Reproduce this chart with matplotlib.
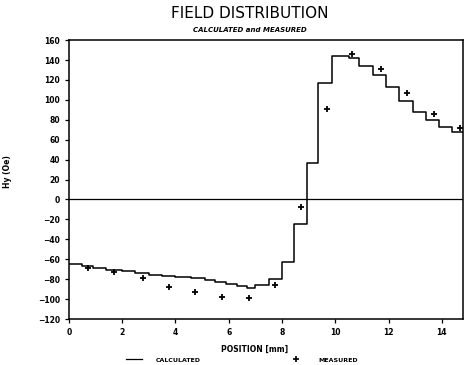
import numpy as np
import matplotlib
matplotlib.use("Agg")
import matplotlib.pyplot as plt
from matplotlib.lines import Line2D

# calculated field (step curve, value holds until next x)
calc_x = [0.0, 0.5, 0.9, 1.4, 2.0, 2.5, 3.0, 3.5, 4.0, 4.6, 5.1, 5.5, 5.9, 6.3, 6.7, 7.0,
          7.5, 8.0, 8.45, 8.93, 9.37, 9.87, 10.5, 10.9, 11.4, 11.9, 12.4, 12.9, 13.4,
          13.9, 14.4, 14.8]
calc_y = [-65, -67, -69, -71, -72, -74, -76, -77, -78, -79, -81, -83, -85, -87, -89, -86,
          -80, -63, -25, 37, 117, 144, 142, 134, 125, 113, 99, 88, 80,
          73, 68, 68]

# measured points
meas_x = [0.73, 1.70, 2.77, 3.77, 4.75, 5.75, 6.77, 7.74, 8.70, 9.69, 10.63, 11.70,
          12.70, 13.70, 14.70]
meas_y = [-69, -73, -79, -88, -93, -98, -99, -86, -8, 91, 146, 131, 107, 86, 72]

x_ticks = [0, 2, 4, 6, 8, 10, 12, 14]
y_ticks = list(range(-120, 161, 20))

fig = plt.figure(figsize=(4.65, 3.65), dpi=100)
ax = fig.add_axes([0.148, 0.126, 0.848, 0.764])

ax.step(calc_x, calc_y, where='post', color='black', lw=1.1)
ax.plot(meas_x, meas_y, '+', color='black', ms=5, mew=1.3)
ax.axhline(0, color='black', lw=0.9)

ax.set_xlim(0, 14.8)
ax.set_ylim(-120, 160)
ax.set_xticks(x_ticks)
ax.set_yticks(y_ticks)
ax.tick_params(direction='out', length=3, width=0.9, labelsize=5.5, pad=3.5)
for lab in ax.get_xticklabels() + ax.get_yticklabels():
    lab.set_fontweight('bold')
for sp in ax.spines.values():
    sp.set_linewidth(1.1)

ax.set_xlabel('POSITION [mm]', fontsize=5.5, fontweight='bold', labelpad=8)
ax.xaxis.set_label_coords(0.47, -0.092)
ax.set_ylabel('Hy (Oe)', fontsize=5.5, fontweight='bold')
ax.yaxis.set_label_coords(-0.145, 0.53)

fig.text(0.538, 0.962, 'FIELD DISTRIBUTION', ha='center', va='center', fontsize=11)
fig.text(0.538, 0.918, 'CALCULATED and MEASURED', ha='center', va='center',
         fontsize=5, fontweight='bold', style='italic')

handles = [Line2D([], [], color='black', lw=0.9),
           Line2D([], [], ls='none', marker='+', color='black', ms=5, mew=1.2)]
fig.legend(handles, ['CALCULATED', 'MEASURED'], loc='center', bbox_to_anchor=(0.52, 0.014),
           ncol=2, frameon=False, prop={'size': 4.5, 'weight': 'bold'},
           columnspacing=14, handlelength=2.6, handletextpad=2.2, borderpad=0)

fig.savefig('out.png', dpi=100)
